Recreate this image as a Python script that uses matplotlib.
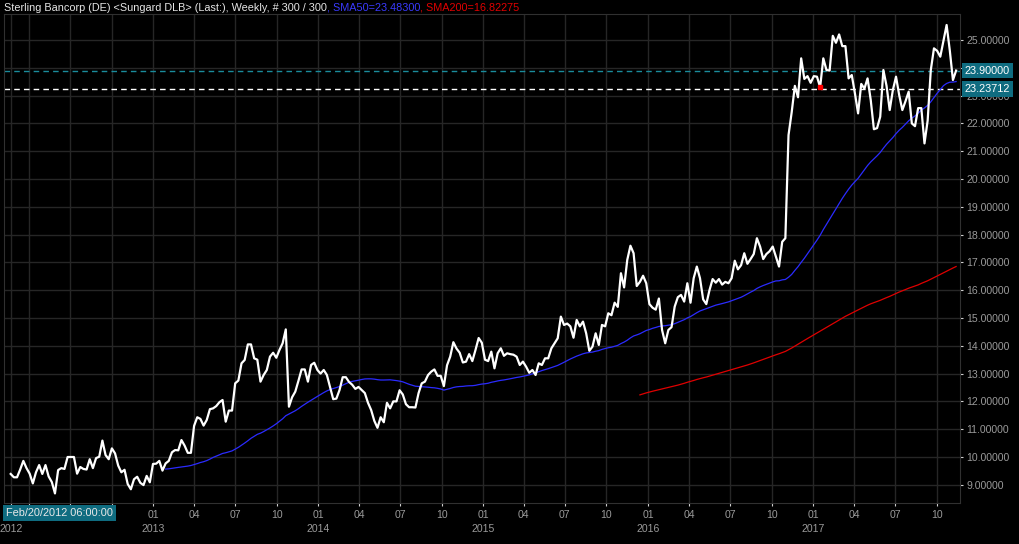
import numpy as np
import pandas as pd
import matplotlib
matplotlib.use("Agg")
import matplotlib.pyplot as plt
import matplotlib.dates as mdates
import matplotlib.transforms as mtransforms

# ------------------------------
# Datos: cierres semanales (300 barras)
# ------------------------------
start_date = "2012-02-20"
close = [
    9.39, 9.27, 9.27, 9.55, 9.86, 9.60, 9.40, 9.05, 9.45, 9.71,
    9.39, 9.71, 9.30, 9.10, 8.69, 9.53, 9.60, 9.57, 10.00, 10.00,
    10.00, 9.40, 9.64, 9.57, 9.55, 9.92, 9.60, 9.96, 10.01, 10.59,
    10.07, 9.92, 10.31, 10.13, 9.69, 9.45, 9.54, 9.03, 8.84, 9.20,
    9.29, 9.07, 8.99, 9.32, 9.09, 9.75, 9.76, 9.86, 9.51, 9.77,
    9.86, 10.17, 10.25, 10.24, 10.61, 10.41, 10.15, 10.15, 11.12, 11.43,
    11.37, 11.13, 11.33, 11.72, 11.75, 11.83, 11.97, 12.05, 11.27, 11.67,
    11.67, 12.65, 12.75, 13.37, 13.49, 14.05, 14.05, 13.55, 13.50, 12.71,
    12.95, 13.13, 13.61, 13.75, 13.57, 13.85, 14.09, 14.59, 11.81, 12.15,
    12.35, 12.74, 13.15, 13.15, 12.71, 13.31, 13.39, 13.13, 13.00, 13.13,
    12.95, 12.51, 12.08, 12.10, 12.41, 12.87, 12.87, 12.70, 12.60, 12.45,
    12.52, 12.41, 12.30, 11.95, 11.69, 11.30, 11.05, 11.43, 11.25, 11.95,
    11.75, 12.00, 12.00, 12.40, 12.25, 11.90, 11.79, 11.79, 11.78, 12.30,
    12.65, 12.71, 12.95, 13.07, 13.15, 12.92, 12.92, 12.55, 13.30, 13.61,
    14.13, 13.90, 13.75, 13.40, 13.43, 13.70, 13.45, 13.85, 14.28, 14.11,
    13.50, 13.45, 13.79, 13.19, 13.73, 13.91, 13.64, 13.73, 13.70, 13.68,
    13.61, 13.31, 13.43, 13.25, 13.03, 13.13, 12.95, 13.37, 13.31, 13.55,
    13.55, 13.91, 14.09, 14.27, 15.05, 14.75, 14.80, 14.70, 14.29, 14.93,
    14.70, 14.87, 14.45, 13.82, 13.97, 14.45, 14.03, 14.75, 14.70, 15.17,
    15.10, 15.55, 15.40, 16.61, 16.10, 17.09, 17.60, 17.33, 16.15, 16.30,
    16.52, 16.25, 15.50, 15.37, 15.30, 15.70, 14.57, 14.09, 14.57, 14.67,
    15.41, 15.75, 15.83, 15.59, 16.25, 15.55, 16.43, 16.85, 16.43, 15.67,
    15.50, 16.00, 16.40, 16.27, 16.40, 16.20, 16.30, 16.25, 16.43, 17.06,
    16.75, 16.90, 17.33, 16.95, 17.12, 17.30, 17.87, 17.57, 17.12, 17.30,
    17.40, 17.57, 17.21, 16.85, 17.74, 17.87, 21.58, 22.40, 23.35, 22.94,
    24.34, 23.60, 23.70, 23.46, 23.70, 23.68, 23.30, 24.34, 23.92, 23.90,
    25.15, 24.90, 25.20, 24.78, 24.78, 23.62, 23.74, 23.08, 22.36, 23.42,
    23.25, 23.62, 22.84, 21.79, 21.83, 22.24, 23.92, 23.35, 22.48, 23.20,
    23.68, 23.02, 22.48, 22.80, 23.14, 22.00, 21.90, 22.55, 22.55, 21.28,
    22.10, 23.92, 24.70, 24.61, 24.40, 24.98, 25.54, 24.63, 23.56, 23.90,
]
sma50_label = "23.48300"
sma200_label = "16.82275"
last_price = 23.90000
cursor_price = 23.23712
cursor_bar = 256
price_ticks = list(range(9, 26))
month_ticks = pd.date_range("2012-04-01", "2017-10-01", freq="QS")
year_ticks = ["2013", "2014", "2015", "2016", "2017"]

dates = pd.date_range(start_date, periods=len(close), freq="7D")
serie = pd.Series(close, index=dates)
sma50 = serie.rolling(50).mean()
sma200 = serie.rolling(200).mean()

# ------------------------------
# Estilo
# ------------------------------
plt.rcParams["font.family"] = ["Liberation Sans", "DejaVu Sans"]
bg = "#000000"
grid_color = "#262626"
label_color = "#9a9a9a"
teal = "#0f6c80"

fig = plt.figure(figsize=(10.2, 5.44), dpi=100, facecolor=bg)
ax = fig.add_axes([4 / 1020, 41 / 544, 956 / 1020, 489 / 544], facecolor=bg)

ax.plot(dates, serie.values, color="white", lw=1.6, zorder=4)
ax.plot(dates, sma50.values, color="#2b2bff", lw=0.9, zorder=3)
ax.plot(dates, sma200.values, color="#e00000", lw=0.9, zorder=3)
ax.plot(dates[cursor_bar], close[cursor_bar], "s", color="red", ms=2.5, zorder=5)

ax.axhline(last_price, color="#1a8c9c", lw=1.0, ls=(0, (4, 3)), zorder=2)
ax.axhline(cursor_price, color="white", lw=1.0, ls=(0, (4, 3)), zorder=2)

# ejes
px_day = 3.162 / 7
ax.set_xlim(dates[0] - pd.Timedelta(days=6.7 / px_day), dates[-1] + pd.Timedelta(days=3.9 / px_day))
ax.set_ylim(9 - (503 - 484.8) / 27.8, 25 + (40 - 14) / 27.8)

ax.yaxis.tick_right()
ax.set_yticks(price_ticks)
ax.set_yticklabels([f"{v:.5f}" for v in price_ticks])
ax.set_xticks([dates[0]] + list(month_ticks))
ax.set_xticklabels([""] + ["" if d.year == 2012 else f"{d.month:02d}" for d in month_ticks])
ax.tick_params(axis="both", colors="#d0d0d0", labelcolor=label_color, labelsize=7.6,
               length=2.5, width=0.8, direction="out")
ax.tick_params(axis="x", pad=2.5)
ax.tick_params(axis="y", pad=2)
ax.grid(True, color=grid_color, lw=1.0)
for s in ax.spines.values():
    s.set_color("#303030")

# años bajo los meses
trans = mtransforms.blended_transform_factory(ax.transData, fig.transFigure)
ax.text(dates[0], 15 / 544, "2012", transform=trans, ha="center", va="center",
        color=label_color, fontsize=7.6)
for y in year_ticks:
    ax.text(pd.Timestamp(f"{y}-01-01"), 15 / 544, y, transform=trans, ha="center",
            va="center", color=label_color, fontsize=7.6)

# etiqueta de fecha del cursor
fig.text(6 / 1020, (544 - 513) / 544, "Feb/20/2012 06:00:00", color="#e8e8e8",
         fontsize=7.9, va="center", ha="left",
         bbox=dict(facecolor=teal, edgecolor="none", pad=2.4))

# etiquetas de precio a la derecha (tapan parcialmente 23.00000, como en el original)
for val, txt in [(last_price, "23.90000"), (cursor_price, "23.23712")]:
    ax.annotate(txt, xy=(1.0, val), xycoords=("axes fraction", "data"),
                xytext=(3.5, 0), textcoords="offset points", va="center", ha="left",
                color="white", fontsize=7.8, annotation_clip=False, zorder=6,
                bbox=dict(facecolor=teal, edgecolor="none", pad=1.9))

# título en tres colores
t1 = fig.text(4 / 1020, (544 - 8) / 544,
              "Sterling Bancorp (DE) <Sungard DLB> (Last:), Weekly, # 300 / 300",
              color="#e6e6e6", fontsize=7.8, va="center", ha="left")
t2 = ax.annotate(", SMA50=" + sma50_label, xy=(1, 0), xycoords=t1, va="bottom",
                 ha="left", color="#3a3aff", fontsize=7.8, annotation_clip=False)
t3 = ax.annotate(", SMA200=" + sma200_label, xy=(1, 0), xycoords=t2, va="bottom",
                 ha="left", color="#e00000", fontsize=7.8, annotation_clip=False)

fig.savefig("out.png", dpi=100, facecolor=bg)
